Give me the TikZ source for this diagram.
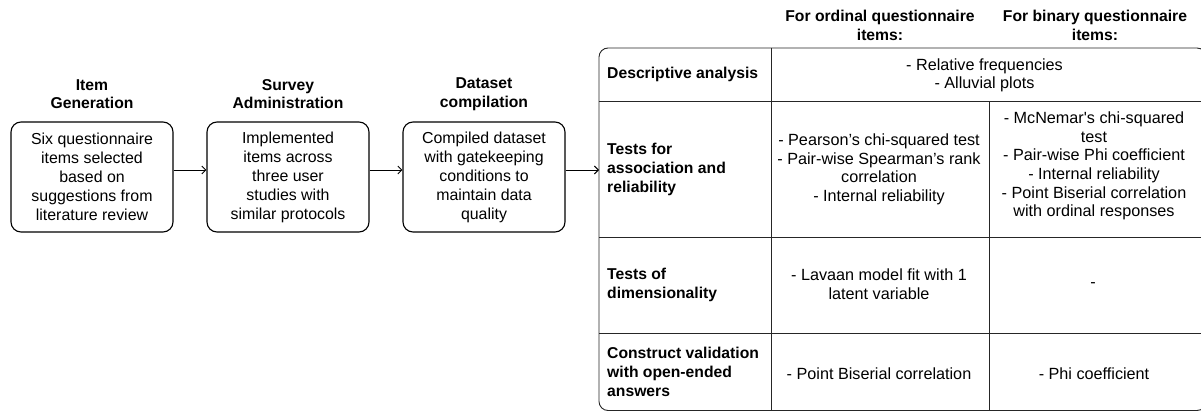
\documentclass[tikz,border=0pt]{standalone}
\usepackage{fontspec}
\setmainfont{Liberation Sans}
\usetikzlibrary{arrows.meta}

\tikzset{
  cell/.style={font=\fontsize{16.2}{18.6}\selectfont, align=center, inner sep=0pt},
  title/.style={font=\bfseries\fontsize{15.7}{18.6}\selectfont, align=center, inner sep=0pt},
  rowhead/.style={font=\bfseries\fontsize{15.7}{19}\selectfont, align=left, inner sep=0pt, anchor=west},
  stage/.style={draw, line width=1.1pt, rounded corners=10pt, minimum width=162pt, minimum height=110pt,
                font=\fontsize{15.9}{19}\selectfont, align=center, inner sep=0pt},
  arr/.style={line width=0.9pt, -{Straight Barb[length=4pt,width=8pt,line width=0.9pt]}},
  grid/.style={line width=0.9pt, draw=black!85},
}

\begin{document}
\begin{tikzpicture}[x=1pt, y=-1pt]
\useasboundingbox (0,0) rectangle (1201,412);

% pipeline stages
\node[title] at (92,94)  {Item\\Generation};
\node[title] at (288,94) {Survey\\Administration};
\node[title] at (484,94) {Dataset\\compilation};

\node[stage] (b1) at (92,177)  {Six questionnaire\\items selected\\based on\\suggestions from\\literature review};
\node[stage] (b2) at (288,177) {Implemented\\items across\\three user\\studies with\\similar protocols};
\node[stage] (b3) at (484,177) {Compiled dataset\\with gatekeeping\\conditions to\\maintain data\\quality};

% analysis table frame
\node[grid, draw, rounded corners=9pt, minimum width=607pt, minimum height=362.5pt, inner sep=0pt]
  (tbl) at (902.5,229.25) {};

\coordinate (c1t) at (771,48);   \coordinate (c1b) at (771,410.5);
\coordinate (c2t) at (989,101);  \coordinate (c2b) at (989,410.5);
\draw[grid] (c1t) -- (c1b);
\draw[grid] (c2t) -- (c2b);
\draw[grid] (599,101) -- (1206,101);
\draw[grid] (599,237) -- (1206,237);
\draw[grid] (599,333) -- (1206,333);

% connectors
\draw[arr] ([yshift=7pt]b1.east) -- ([yshift=7pt]b2.west);
\draw[arr] ([yshift=7pt]b2.east) -- ([yshift=7pt]b3.west);
\coordinate (tin) at (599,170);
\draw[arr] ([yshift=7pt]b3.east) -- (tin);

% column headers
\node[title] (h1) at (880,25.5)  {For ordinal questionnaire\\items:};
\node[title] (h2) at (1095,25.5) {For binary questionnaire\\items:};

% row headers
\node[rowhead] (r1) at (607,74)  {Descriptive analysis};
\node[rowhead] (r2) at (607,169) {Tests for\\association and\\reliability};
\node[rowhead] (r3) at (607,284.5) {Tests of\\dimensionality};
\node[rowhead] (r4) at (607,372) {Construct validation\\with open-ended\\answers};

% cells
\node[cell] (d1) at (984.5,75.5) {- Relative frequencies\\- Alluvial plots};
\node[cell] (o2) at (879,169.5)  {- Pearson's chi-squared test\\- Pair-wise Spearman's rank\\correlation\\- Internal reliability};
\node[cell] (b2c) at (1094,166) {- McNemar\textquotesingle s chi-squared\\test\\- Pair-wise Phi coefficient\\- Internal reliability\\- Point Biserial correlation\\with ordinal responses};
\node[cell] (o3) at (879,284.5)  {- Lavaan model fit with 1\\latent variable};
\node[cell] (b3c) at (1093,285) {-};
\node[cell] (o4) at (879,374)  {- Point Biserial correlation};
\node[cell] (b4c) at (1094,374) {- Phi coefficient};
\end{tikzpicture}
\end{document}
